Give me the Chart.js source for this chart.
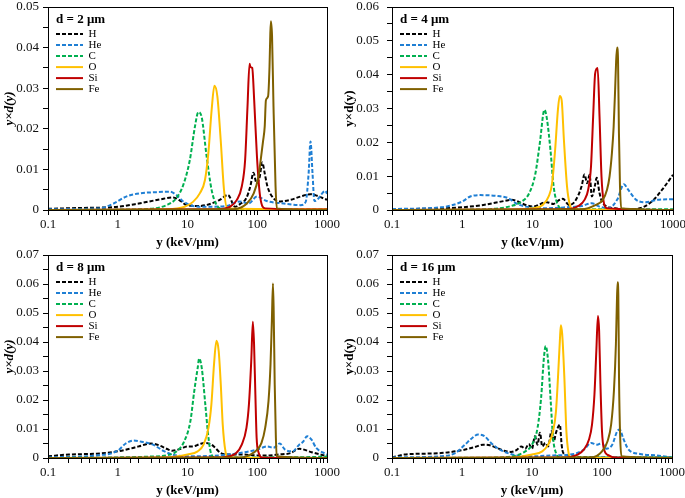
<!DOCTYPE html>
<html>
<head>
<meta charset="utf-8">
<script src="https://cdn.jsdelivr.net/npm/chart.js@4.4.1/dist/chart.umd.min.js"></script>
<style>
  body { margin: 0; background: #fff; }
  #wrap { position: relative; width: 685px; height: 498px; overflow: hidden; }
  canvas { position: absolute; }
</style>
</head>
<body>
<div id="wrap">
  <canvas id="c2" width="340" height="250" style="left:0;top:0"></canvas>
  <canvas id="c4" width="345" height="250" style="left:340px;top:0"></canvas>
  <canvas id="c8" width="340" height="250" style="left:0;top:248px"></canvas>
  <canvas id="c16" width="345" height="250" style="left:340px;top:248px"></canvas>
</div>
<script>
// series names and tick labels
const species = ['H', 'He', 'C', 'O', 'Si', 'Fe'];
const xTickLabels = [0.1, 1, 10, 100, 1000];

// d = 2 um  ([y keV/um, y*d(y)])
const d2H = [[0.1,0.0003],[0.3,0.0005],[1,0.0008],[2,0.0016],[4,0.0026],[6.2,0.0031],[8,0.0022],[9.7,0.0012],[15,0.001],[22,0.0016],[29,0.0025],[38,0.0037],[48,0.0008],[57,0.0015],[70,0.003],[80,0.006],[88,0.0092],[98,0.0066],[108,0.008],[118,0.0117],[128,0.009],[140,0.0058],[171,0.0029],[215,0.0021],[300,0.0025],[416,0.0033],[580,0.0039],[720,0.0035],[1000,0.0025]];
const d2He = [[0.1,0.0002],[0.54,0.0004],[0.85,0.0015],[1.32,0.0033],[2.05,0.0041],[3.6,0.0044],[5.6,0.0045],[6.9,0.0037],[8.7,0.0021],[12,0.001],[19,0.0008],[36,0.001],[57,0.0021],[75,0.0016],[99,0.0033],[137,0.0022],[240,0.0016],[416,0.0012],[495,0.002],[545,0.009],[580,0.0169],[620,0.009],[660,0.0022],[720,0.0025],[950,0.0047],[1000,0.004]];
const d2C = [[0.1,0],[1,0.0001],[2.9,0.0003],[5,0.0012],[6.9,0.0029],[8.7,0.0062],[10.8,0.0123],[12.8,0.0206],[14.3,0.0241],[15.9,0.023],[18.8,0.0132],[22.2,0.0049],[26.2,0.0012],[32.6,0.0002],[1000,0.0002]];
const d2O = [[0.1,0],[5,0.0002],[9.1,0.0008],[12,0.002],[15,0.0041],[17.8,0.0074],[19.9,0.014],[22.2,0.0247],[24.3,0.0306],[26.8,0.028],[29.9,0.0173],[33.4,0.0049],[37.3,0.0004],[1000,0.0002]];
const d2Si = [[0.1,0],[26,0.0002],[40.7,0.0008],[51,0.0025],[60,0.0058],[67,0.0123],[72.5,0.0255],[77.5,0.036],[80,0.0352],[84.7,0.035],[90.4,0.027],[99,0.0132],[110,0.0033],[130,0.0004],[1000,0.0001]];
const d2Fe = [[0.1,0],[45.6,0.0002],[71,0.0016],[89,0.0041],[104,0.0082],[112,0.0123],[121,0.0169],[128,0.0206],[133,0.027],[143,0.028],[150,0.0354],[154,0.0436],[157,0.0465],[163,0.0428],[171,0.0255],[183,0.0058],[191,0.0004],[1000,0]];

// d = 4 um
const d4H = [[0.1,0.0002],[0.5,0.0005],[1,0.0008],[2,0.0015],[4.3,0.0028],[5,0.003],[8,0.0015],[10,0.001],[16,0.0023],[20,0.0018],[23,0.0027],[27,0.0033],[33,0.0015],[40,0.0025],[50,0.007],[55,0.0105],[60,0.0079],[65,0.0104],[70,0.004],[77,0.007],[82,0.0095],[90,0.005],[100,0.002],[150,0.0005],[200,0.0002],[300,0.0003],[500,0.0025],[700,0.006],[1000,0.0104]];
const d4He = [[0.1,0.0003],[0.5,0.0008],[1,0.0025],[1.3,0.004],[1.8,0.0044],[3,0.0042],[4.5,0.0035],[6,0.0018],[8,0.001],[15,0.0005],[30,0.0008],[50,0.0012],[70,0.002],[90,0.001],[120,0.0005],[160,0.003],[200,0.0076],[230,0.006],[300,0.003],[400,0.0023],[600,0.003],[1000,0.0032]];
const d4C = [[0.1,0],[1,0.0001],[3,0.0004],[5,0.0012],[7,0.0025],[9,0.005],[11,0.0108],[12.7,0.0197],[14.8,0.0296],[16,0.0271],[18,0.0178],[20,0.007],[23,0.0015],[28,0.0002],[1000,0.0002]];
const d4O = [[0.1,0],[5,0.0001],[10,0.0005],[14,0.0015],[17,0.004],[19,0.0079],[21,0.0178],[23,0.0296],[24.4,0.0337],[26,0.0325],[28,0.0207],[31,0.007],[34,0.0015],[37,0.0002],[1000,0]];
const d4Si = [[0.1,0],[30,0.0002],[45,0.0012],[55,0.003],[62,0.006],[68,0.0128],[73,0.0276],[78,0.0404],[84.6,0.042],[90,0.0276],[96,0.0099],[103,0.0025],[115,0.0005],[1000,0]];
const d4Fe = [[0.1,0],[50,0.0002],[80,0.0015],[100,0.003],[115,0.006],[125,0.0099],[135,0.0168],[143,0.0247],[150,0.0355],[155,0.0439],[160,0.048],[165,0.0444],[170,0.0227],[176,0.007],[183,0.0005],[1000,0]];

// d = 8 um
const d8H = [[0.1,0.0006],[0.2,0.0012],[0.5,0.0015],[1,0.0023],[1.5,0.0032],[2,0.004],[3,0.005],[4,0.0043],[5,0.0032],[6,0.0025],[8,0.0032],[10,0.004],[12,0.004],[15,0.0048],[18,0.0052],[22,0.0046],[25,0.0035],[30,0.0017],[40,0.0012],[60,0.0012],[100,0.0009],[150,0.0009],[200,0.0012],[300,0.0017],[400,0.0032],[600,0.002],[1000,0.0006]];
const d8He = [[0.1,0.0002],[0.5,0.0009],[1,0.0025],[1.3,0.005],[1.7,0.006],[2.3,0.0055],[3.2,0.0046],[4.5,0.0025],[6,0.0012],[10,0.0006],[20,0.0007],[40,0.0012],[70,0.0021],[100,0.0029],[140,0.004],[170,0.0035],[210,0.005],[250,0.0029],[320,0.0023],[400,0.0046],[450,0.0055],[520,0.0075],[600,0.0063],[700,0.0035],[1000,0.0012]];
const d8C = [[0.1,0],[1,0.0002],[3,0.0005],[5,0.0009],[7,0.0023],[9,0.0058],[11,0.0127],[12.5,0.0231],[14,0.0311],[14.7,0.0343],[16,0.0311],[18,0.0185],[20,0.0069],[22,0.0012],[25,0.0002],[500,0.0003],[1000,0.0005]];
const d8O = [[0.1,0],[5,0.0002],[10,0.0012],[14,0.0023],[17,0.0046],[20,0.0104],[22,0.0185],[24,0.0323],[26,0.0404],[28,0.0369],[30,0.0254],[32,0.0115],[35,0.0023],[38,0.0002],[1000,0]];
const d8Si = [[0.1,0],[30,0.0002],[40,0.0006],[50,0.0017],[60,0.0046],[70,0.0104],[76,0.0185],[82,0.0334],[86.5,0.047],[90,0.0392],[94,0.0219],[98,0.0069],[105,0.0017],[115,0.0002],[1000,0]];
const d8Fe = [[0.1,0],[60,0.0002],[80,0.0012],[100,0.0029],[115,0.0052],[130,0.0104],[145,0.0196],[155,0.0323],[162,0.0473],[168,0.0602],[172,0.0508],[178,0.0254],[185,0.0069],[190,0.0006],[1000,0]];

// d = 16 um
const d16H = [[0.1,0.0002],[0.15,0.0012],[0.2,0.0014],[0.5,0.0017],[1,0.0027],[1.5,0.0037],[2,0.0046],[2.5,0.0044],[3,0.0037],[4,0.0025],[5,0.0021],[6,0.0027],[7,0.004],[8,0.0032],[9,0.0048],[10,0.0032],[11,0.0075],[12,0.0046],[13,0.0087],[14,0.004],[15.5,0.0052],[17,0.004],[19,0.0092],[20.5,0.0058],[22,0.0087],[24,0.011],[25,0.0115],[26.5,0.0046],[28,0.0017],[32,0.0009],[50,0.0003],[100,0.0002],[1000,0.0002]];
const d16He = [[0.1,0.0002],[0.5,0.0006],[0.8,0.0017],[1.1,0.0046],[1.4,0.0069],[1.7,0.0081],[2.1,0.0075],[2.6,0.0052],[3.3,0.0032],[4.5,0.0017],[6,0.0009],[10,0.0006],[20,0.0009],[40,0.0014],[55,0.0029],[70,0.0052],[85,0.0046],[100,0.0052],[115,0.0032],[140,0.0046],[165,0.0092],[180,0.0098],[200,0.0069],[240,0.0029],[350,0.0014],[600,0.0009],[1000,0.0002]];
const d16C = [[0.1,0],[2,0.0001],[5,0.0005],[8,0.0023],[10,0.0046],[12,0.0104],[13.5,0.0208],[14.8,0.0346],[15.7,0.0386],[17,0.0334],[18.5,0.0196],[20,0.0069],[22,0.0017],[25,0.0002],[1000,0.0002]];
const d16O = [[0.1,0],[5,0.0001],[10,0.0012],[14,0.0023],[17,0.0046],[20,0.0092],[22,0.0161],[23.5,0.0277],[25,0.0404],[25.8,0.0458],[27,0.0427],[29,0.0277],[31,0.0092],[33,0.0023],[36,0.0002],[1000,0]];
const d16Si = [[0.1,0],[30,0.0002],[45,0.0012],[55,0.0029],[65,0.0063],[72,0.0115],[78,0.0219],[83,0.0369],[87.5,0.049],[91,0.0438],[95,0.0254],[100,0.0092],[107,0.0029],[125,0.0009],[150,0.0002],[1000,0]];
const d16Fe = [[0.1,0],[70,0.0002],[100,0.0023],[120,0.0058],[135,0.0115],[148,0.0231],[158,0.0392],[163,0.0531],[167,0.0606],[171,0.0565],[175,0.0277],[182,0.0069],[190,0.0006],[1000,0]];

const colors = ['#000000', '#1f7fd4', '#00b050', '#ffc000', '#c00000', '#7f6000'];
const dashes = [[4, 2], [4, 2], [4, 2], [], [], []];
const serif = 'Liberation Serif';

const panels = [
  { id: 'c2',  title: 'd = 2 μm',  yMax: 0.05, yWidth: 48, right: 13, tickPad: 4, italic: true,  series: [d2H, d2He, d2C, d2O, d2Si, d2Fe] },
  { id: 'c4',  title: 'd = 4 μm',  yMax: 0.06, yWidth: 52, right: 12, tickPad: 8, italic: false, series: [d4H, d4He, d4C, d4O, d4Si, d4Fe] },
  { id: 'c8',  title: 'd = 8 μm',  yMax: 0.07, yWidth: 48, right: 13, tickPad: 4, italic: true,  series: [d8H, d8He, d8C, d8O, d8Si, d8Fe] },
  { id: 'c16', title: 'd = 16 μm', yMax: 0.07, yWidth: 52, right: 13, tickPad: 8, italic: false, series: [d16H, d16He, d16C, d16O, d16Si, d16Fe] }
];

// box round the plot + move legend inside the plot area
const framePlugin = {
  id: 'frame',
  afterLayout(chart) {
    const lg = chart.legend, ca = chart.chartArea;
    if (!lg) return;
    lg.left = ca.left + 8;
    lg.top = ca.top + 2;
    lg.right = ca.right;
    lg.bottom = ca.bottom;
  },
  afterDatasetsDraw(chart) {
    const { ctx, chartArea: ca } = chart;
    ctx.save();
    ctx.strokeStyle = '#000';
    ctx.lineWidth = 1;
    ctx.strokeRect(Math.round(ca.left) + 0.5, Math.round(ca.top) + 0.5, Math.round(ca.right - ca.left), Math.round(ca.bottom - ca.top));
    ctx.restore();
  }
};

function isDecade(v) {
  const l = Math.log10(v);
  return Math.abs(l - Math.round(l)) < 1e-6;
}

// legend items keep the dataset order and its dash pattern
function legendLabels(chart) {
  const items = Chart.defaults.plugins.legend.labels.generateLabels(chart);
  items.forEach(it => {
    const ds = chart.data.datasets[it.datasetIndex];
    it.lineDash = ds.borderDash;
    it.strokeStyle = ds.borderColor;
    it.lineWidth = 2;
  });
  return items.sort((a, b) => a.datasetIndex - b.datasetIndex);
}

panels.forEach(p => {
  const datasets = species.map((name, i) => ({
    label: name,
    data: p.series[i].map(([x, y]) => ({ x, y })),
    borderColor: colors[i],
    backgroundColor: colors[i],
    borderWidth: 2,
    borderDash: dashes[i],
    pointRadius: 0,
    fill: false,
    cubicInterpolationMode: 'monotone',
    order: 6 - i
  }));

  new Chart(document.getElementById(p.id), {
    type: 'line',
    data: { datasets },
    plugins: [framePlugin],
    options: {
      responsive: false,
      animation: false,
      devicePixelRatio: 1,
      layout: { padding: { top: 7, right: p.right, left: 0, bottom: 0 } },
      plugins: {
        tooltip: { enabled: false },
        legend: {
          position: 'chartArea',
          align: 'start',
          title: {
            display: true,
            text: p.title,
            position: 'start',
            color: '#000',
            font: { family: serif, size: 13, weight: 'bold' },
            padding: { top: 4, bottom: 0 }
          },
          labels: {
            usePointStyle: true,
            pointStyle: 'line',
            pointStyleWidth: 27,
            boxHeight: 11,
            padding: 0,
            color: '#000',
            font: { family: serif, size: 11 },
            generateLabels: legendLabels
          }
        }
      },
      scales: {
        x: {
          type: 'logarithmic',
          min: 0.1,
          max: 1000,
          afterFit(s) { s.height = 40; s.paddingLeft = 0; s.paddingRight = 0; },
          border: { display: true, color: '#000', width: 1 },
          grid: { display: true, drawOnChartArea: false, drawTicks: true, tickLength: 5, color: '#000' },
          ticks: {
            autoSkip: false,
            maxRotation: 0,
            padding: 2,
            color: '#111',
            font: { family: serif, size: 13 },
            callback: v => (isDecade(v) && xTickLabels.some(t => Math.abs(t - v) < 1e-9 * t + 1e-12)) ? String(Number(v.toPrecision(3))) : ''
          },
          title: {
            display: true,
            text: 'y (keV/μm)',
            color: '#000',
            font: { family: serif, size: 13, weight: 'bold' },
            padding: { top: 0, bottom: 0 }
          }
        },
        y: {
          min: 0,
          max: p.yMax,
          afterFit(s) { s.width = p.yWidth; s.paddingTop = 0; s.paddingBottom = 0; },
          border: { display: true, color: '#000', width: 1 },
          grid: { display: true, drawOnChartArea: false, drawTicks: true, tickLength: 5, color: '#000' },
          ticks: {
            stepSize: 0.005,
            autoSkip: false,
            padding: p.tickPad,
            color: '#111',
            font: { family: serif, size: 13 },
            callback: v => {
              const k = v * 100;
              if (Math.abs(k - Math.round(k)) > 1e-6) return '';
              return Math.round(k) === 0 ? '0' : (Math.round(k) / 100).toFixed(2);
            }
          },
          title: {
            display: true,
            text: 'y×d(y)',
            color: '#000',
            font: { family: serif, size: 13, weight: 'bold', style: p.italic ? 'italic' : 'normal' },
            padding: { top: 2, bottom: 0 }
          }
        }
      }
    }
  });
});
</script>
</body>
</html>
